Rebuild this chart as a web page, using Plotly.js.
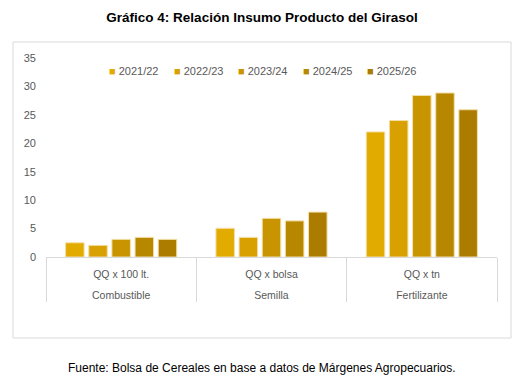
<!DOCTYPE html>
<html>
<head>
<meta charset="utf-8">
<script src="https://cdn.plot.ly/plotly-3.0.1.min.js"></script>
<style>html,body{margin:0;padding:0;background:#fff;}#chart{width:523px;height:387px;}</style>
</head>
<body>
<div id="chart"></div>
<script>
var groups = ["Combustible", "Semilla", "Fertilizante"];
var units = ["QQ x 100 lt.", "QQ x bolsa", "QQ x tn"];
var seasons = ["2021/22", "2022/23", "2023/24", "2024/25", "2025/26"];
var v2021 = [2.5, 5.05, 22.0];
var v2022 = [2.05, 3.45, 24.0];
var v2023 = [3.1, 6.8, 28.4];
var v2024 = [3.45, 6.35, 28.85];
var v2025 = [3.1, 7.9, 25.9];
var colors = ["#E2AB00", "#D8A000", "#C89400", "#B88700", "#AB7C00"];

// inner-level labels with an empty extra line to space the two label rows
var unitLabels = units.map(function (u) { return u + "<br><span style='font-size:14px'>&nbsp;</span>"; });

var series = [v2021, v2022, v2023, v2024, v2025];
var traces = series.map(function (vals, i) {
  return {
    type: "bar",
    name: seasons[i],
    x: [groups, unitLabels],
    y: vals,
    marker: { color: colors[i], line: { color: "#F3DFA8", width: 1 } },
    showlegend: false
  };
});

var W = 523, H = 387, L = 46, R = 26, T = 58, B = 130;
var pw = W - L - R, ph = H - T - B;
function px2x(p) { return (p - L) / pw; }
function py2y(p) { return (H - B - p) / ph; }

var legendAnn = seasons.map(function (s, i) {
  return {
    text: "<span style='color:" + colors[i] + "'>■</span> " + s,
    xref: "paper", yref: "paper",
    x: px2x(107 + i * 64.6), y: py2y(71),
    xanchor: "left", yanchor: "middle", showarrow: false,
    font: { family: "Liberation Sans, Arial, sans-serif", size: 11, color: "#595959" }
  };
});

var layout = {
  width: W, height: H,
  margin: { l: L, r: R, t: T, b: B },
  paper_bgcolor: "#ffffff", plot_bgcolor: "#ffffff",
  font: { family: "Liberation Sans, Arial, sans-serif", color: "#595959", size: 11 },
  title: {
    text: "<b>Gráfico 4: Relación Insumo Producto del Girasol</b>",
    font: { family: "Liberation Sans, Arial, sans-serif", size: 13.5, color: "#000000" },
    x: px2x(262), xanchor: "center", xref: "paper",
    y: 1 - 17 / H, yanchor: "middle", yref: "container"
  },
  barmode: "group",
  bargap: 0.23,
  bargroupgap: 0.2,
  showlegend: false,
  xaxis: {
    type: "multicategory",
    showline: true, linecolor: "#D9D9D9", linewidth: 1,
    showdividers: true, dividercolor: "#D9D9D9", dividerwidth: 1,
    ticks: "", ticklabelstandoff: 7, tickfont: { size: 10.5, color: "#595959" },
    showgrid: false, zeroline: false
  },
  yaxis: {
    range: [0, 35], dtick: 5, tick0: 0,
    showgrid: false, zeroline: false, showline: false,
    ticks: "", ticklabelstandoff: 9,
    tickfont: { size: 11, color: "#595959" }
  },
  shapes: [{
    type: "rect", xref: "paper", yref: "paper",
    x0: px2x(13), x1: px2x(511), y0: py2y(338), y1: py2y(42),
    line: { color: "#D9D9D9", width: 1 }, fillcolor: "rgba(0,0,0,0)", layer: "below"
  }],
  annotations: legendAnn.concat([{
    text: "Fuente: Bolsa de Cereales en base a datos de Márgenes Agropecuarios.",
    xref: "paper", yref: "paper", x: px2x(262), y: py2y(368),
    xanchor: "center", yanchor: "middle", showarrow: false,
    font: { family: "Liberation Sans, Arial, sans-serif", size: 12, color: "#000000" }
  }])
};

Plotly.newPlot("chart", traces, layout, { displayModeBar: false, staticPlot: true });
</script>
</body>
</html>
